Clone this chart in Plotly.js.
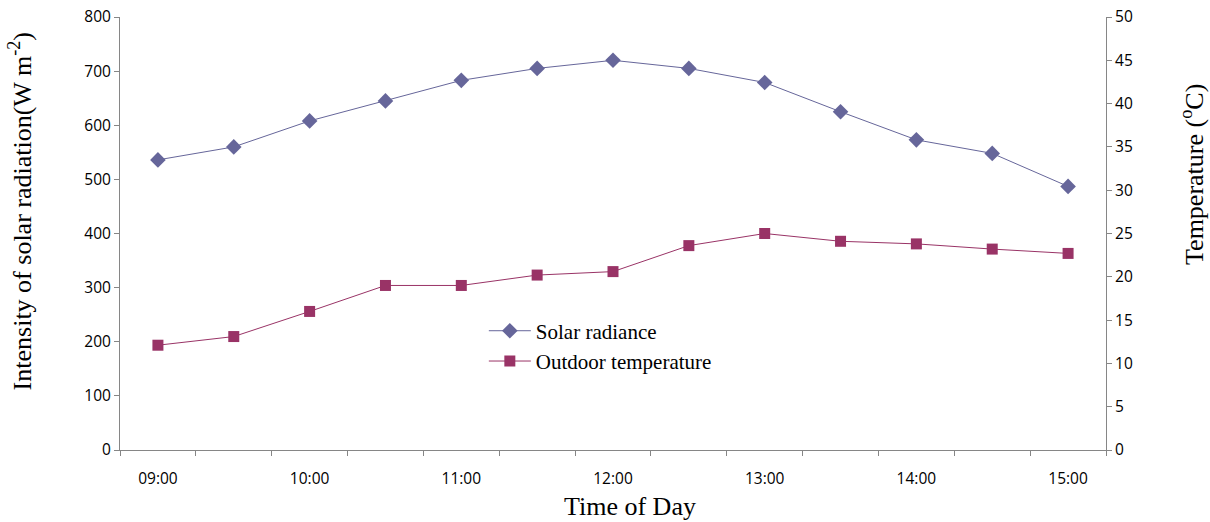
<!DOCTYPE html>
<html>
<head>
<meta charset="utf-8">
<script src="https://cdn.plot.ly/plotly-3.0.1.min.js"></script>
<style>html,body{margin:0;padding:0;background:#fff;}#chart{width:1210px;height:522px;}</style>
</head>
<body>
<div id="chart"></div>
<script>
const times = ["09:00","09:30","10:00","10:30","11:00","11:30","12:00","12:30","13:00","13:30","14:00","14:30","15:00"];
const tickLabels = ["09:00","","10:00","","11:00","","12:00","","13:00","","14:00","","15:00"];
const solarRadiance = [536, 560, 608, 645, 683, 705, 720, 705, 679, 625, 573, 548, 487];
const outdoorTemp = [12.1, 13.1, 16.0, 19.0, 19.0, 20.2, 20.6, 23.6, 25.0, 24.1, 23.8, 23.2, 22.7];
const xTitle = "Time of Day";
const yTitle = "Intensity of solar radiation(W m<sup>-2</sup>)";
const y2Title = "Temperature (<sup>o</sup>C)";

const traces = [
  {
    x: times, y: solarRadiance, name: "Solar radiance", type: "scatter", mode: "lines+markers",
    line: {color: "#66669A", width: 1},
    marker: {symbol: "diamond", size: 12, color: "#66669A"},
    yaxis: "y"
  },
  {
    x: times, y: outdoorTemp, name: "Outdoor temperature", type: "scatter", mode: "lines+markers",
    line: {color: "#993366", width: 1},
    marker: {symbol: "square", size: 11, color: "#993366"},
    yaxis: "y2"
  }
];

const axisCol = "#868686";
const tickFont = {family: "Open Sans, Liberation Sans, sans-serif", size: 15.5, color: "#000"};
const serif = "Liberation Serif, Times New Roman, serif";

const layout = {
  width: 1210, height: 522,
  margin: {l: 120, r: 104, t: 17, b: 72},
  paper_bgcolor: "#fff", plot_bgcolor: "#fff",
  showlegend: true,
  legend: {
    x: 0.369, y: 0.322, xanchor: "left", yanchor: "top",
    bgcolor: "rgba(0,0,0,0)",
    font: {family: serif, size: 21, color: "#000"},
    tracegroupgap: 10, itemwidth: 42
  },
  xaxis: {
    type: "category",
    categoryorder: "array", categoryarray: times,
    range: [-0.5, 12.5],
    tickmode: "array", tickvals: times, ticktext: tickLabels,
    tickson: "boundaries",
    ticks: "outside", ticklen: 5, tickcolor: axisCol,
    ticklabelstandoff: 14,
    showline: true, linecolor: axisCol, linewidth: 1,
    showgrid: false, zeroline: false,
    tickfont: tickFont,
    automargin: false
  },
  yaxis: {
    range: [0, 800], tickmode: "linear", tick0: 0, dtick: 100,
    ticks: "outside", ticklen: 5, tickcolor: axisCol,
    showline: true, linecolor: axisCol, linewidth: 1,
    showgrid: false, zeroline: false,
    tickfont: tickFont,
    automargin: false
  },
  yaxis2: {
    overlaying: "y", side: "right",
    range: [0, 50], tickmode: "linear", tick0: 0, dtick: 5,
    ticks: "outside", ticklen: 5, tickcolor: axisCol,
    showline: true, linecolor: axisCol, linewidth: 1,
    showgrid: false, zeroline: false,
    tickfont: tickFont,
    automargin: false
  },
  annotations: [
    {text: xTitle, xref: "paper", yref: "paper", x: 0.517, y: -0.13, xanchor: "center", yanchor: "middle",
     showarrow: false, font: {family: serif, size: 26, color: "#000"}},
    {text: yTitle, xref: "paper", yref: "paper", x: -0.1, y: 0.552, xanchor: "center", yanchor: "middle",
     textangle: -90, showarrow: false, font: {family: serif, size: 26, color: "#000"}},
    {text: y2Title, xref: "paper", yref: "paper", x: 1.087, y: 0.637, xanchor: "center", yanchor: "middle",
     textangle: -90, showarrow: false, font: {family: serif, size: 26, color: "#000"}}
  ]
};

Plotly.newPlot("chart", traces, layout, {displayModeBar: false, staticPlot: true});
</script>
</body>
</html>
